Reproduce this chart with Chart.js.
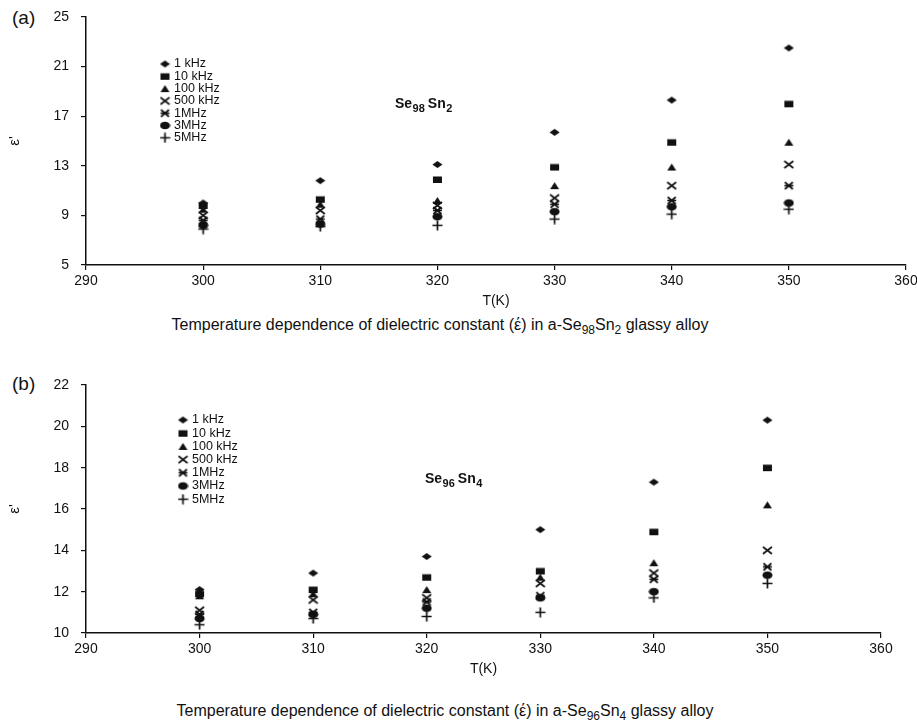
<!DOCTYPE html>
<html>
<head>
<meta charset="utf-8">
<script src="https://cdn.jsdelivr.net/npm/chart.js@4"></script>
<style>
  body { margin: 0; background: #fff; font-family: "Liberation Sans", Arial, sans-serif; color: #111; }
  #wrap { position: relative; width: 917px; height: 725px; }
  canvas { position: absolute; left: 0; }
  .tag { position: absolute; left: 12px; font-size: 19px; }
  .cap { position: absolute; width: 880px; text-align: center; font-size: 16px; }
  .cap sub { font-size: 12px; }
</style>
</head>
<body>
<div id="wrap">
  <div class="tag" style="top:7px">(a)</div>
  <canvas id="chA" width="917" height="312" style="top:0"></canvas>
  <div class="cap" style="left:0;top:316px">Temperature dependence of dielectric constant (έ) in a-Se<sub>98</sub>Sn<sub>2</sub> glassy alloy</div>

  <div class="tag" style="top:373px">(b)</div>
  <canvas id="chB" width="917" height="312" style="top:368px"></canvas>
  <div class="cap" style="left:5px;top:702px">Temperature dependence of dielectric constant (έ) in a-Se<sub>96</sub>Sn<sub>4</sub> glassy alloy</div>
</div>
<script>
const temps = [300, 310, 320, 330, 340, 350];
const freqs = ['1 kHz', '10 kHz', '100 kHz', '500 kHz', '1MHz', '3MHz', '5MHz'];

// (a) Se98 Sn2
const a1k   = [10.0, 11.8, 13.1, 15.7, 18.3, 22.5];
const a10k  = [9.8, 10.3, 11.9, 12.9, 14.9, 18.0];
const a100k = [9.5, 9.9, 10.2, 11.4, 12.9, 14.9];
const a500k = [9.0, 9.4, 9.8, 10.4, 11.4, 13.1];
const a1M   = [8.6, 8.7, 9.4, 9.9, 10.2, 11.4];
const a3M   = [8.2, 8.3, 8.9, 9.3, 9.7, 10.0];
const a5M   = [7.9, 8.1, 8.2, 8.7, 9.1, 9.5];

// (b) Se96 Sn4
const b1k   = [12.1, 12.9, 13.7, 15.0, 17.3, 20.3];
const b10k  = [11.9, 12.1, 12.7, 13.0, 14.9, 18.0];
const b100k = [11.8, 11.9, 12.1, 12.7, 13.4, 16.2];
const b500k = [11.1, 11.6, 11.7, 12.4, 12.9, 14.0];
const b1M   = [10.9, 11.0, 11.5, 11.8, 12.6, 13.2];
const b3M   = [10.7, 10.9, 11.2, 11.7, 12.0, 12.8];
const b5M   = [10.4, 10.7, 10.8, 11.0, 11.7, 12.4];

const ink = '#111';
const fontFam = '"Liberation Sans", Arial, sans-serif';

// small marker images, one per frequency
function marker(kind) {
  const c = document.createElement('canvas');
  c.width = 11; c.height = 11;
  const g = c.getContext('2d');
  g.fillStyle = ink; g.strokeStyle = ink; g.lineWidth = 1.7;
  g.beginPath();
  if (kind === 'diamond') {
    g.moveTo(0.5, 5.5); g.lineTo(5.5, 2); g.lineTo(10.5, 5.5); g.lineTo(5.5, 9); g.closePath(); g.fill();
  } else if (kind === 'square') {
    g.fillRect(1, 2.5, 9, 6.5);
  } else if (kind === 'triangle') {
    g.moveTo(1, 9); g.lineTo(5.5, 2); g.lineTo(10, 9); g.closePath(); g.fill();
  } else if (kind === 'x') {
    g.moveTo(1, 2); g.lineTo(10, 9); g.moveTo(1, 9); g.lineTo(10, 2); g.stroke();
  } else if (kind === 'aster') {
    g.moveTo(1.5, 2); g.lineTo(9.5, 9); g.moveTo(1.5, 9); g.lineTo(9.5, 2);
    g.moveTo(1, 5.5); g.lineTo(10, 5.5); g.stroke();
  } else if (kind === 'circle') {
    g.ellipse(5.5, 5.5, 5, 3.8, 0, 0, Math.PI * 2); g.fill();
  } else {
    g.moveTo(0.5, 5.5); g.lineTo(10.5, 5.5); g.moveTo(5.5, 0.5); g.lineTo(5.5, 10.5); g.stroke();
  }
  return c;
}
const shapes = ['diamond', 'square', 'triangle', 'x', 'aster', 'circle', 'plus'].map(marker);

const innerLegend = {
  id: 'innerLegend',
  afterDraw(chart, args, opts) {
    const g = chart.ctx;
    const area = chart.chartArea;
    g.save();
    g.font = '12.5px ' + fontFam;
    g.fillStyle = ink;
    g.textBaseline = 'middle';
    chart.data.datasets.forEach((ds, i) => {
      const y = area.top + opts.top + i * opts.gap;
      const img = ds.pointStyle;
      g.drawImage(img, area.left + opts.left - img.width / 2, y - img.height / 2);
      g.fillText(ds.label, area.left + opts.left + 9, y);
    });
    // compound name with subscripts
    let x = area.left + opts.noteX;
    const y = area.top + opts.noteY;
    g.textBaseline = 'alphabetic';
    opts.note.forEach(([txt, sub]) => {
      g.font = (sub ? 'bold 11px ' : 'bold 14px ') + fontFam;
      g.fillText(txt, x, sub ? y + 4 : y);
      x += g.measureText(txt).width + (sub ? 3 : 0.5);
    });
    g.restore();
  }
};

function build(id, series, yMin, yMax, yStep, rightPad, legend) {
  const datasets = series.map((vals, i) => ({
    label: freqs[i],
    data: temps.map((t, j) => ({ x: t, y: vals[j] })),
    pointStyle: shapes[i],
    pointRadius: 5,
    showLine: false
  }));
  return new Chart(document.getElementById(id), {
    type: 'scatter',
    data: { datasets: datasets },
    options: {
      responsive: false,
      animation: false,
      layout: { padding: { top: 17, right: rightPad, left: 0, bottom: 0 } },
      plugins: { legend: { display: false }, tooltip: { enabled: false }, innerLegend: legend },
      scales: {
        x: {
          min: 290, max: 360,
          ticks: { stepSize: 10, color: ink, font: { size: 14, family: fontFam }, padding: 3 },
          grid: { drawOnChartArea: false, color: ink, tickLength: 5, lineWidth: 1.2 },
          border: { color: ink, width: 1.5 },
          title: { display: true, text: 'T(K)', color: ink, font: { size: 14, family: fontFam }, padding: { top: 0, bottom: 2 } },
          afterFit: s => { s.height = 47; s.paddingLeft = 0; s.paddingRight = 0; }
        },
        y: {
          min: yMin, max: yMax,
          ticks: { stepSize: yStep, color: ink, font: { size: 14, family: fontFam }, padding: 12 },
          grid: { drawOnChartArea: false, color: ink, tickLength: 5, lineWidth: 1.2 },
          border: { color: ink, width: 1.5 },
          title: { display: true, text: "ε'", color: ink, font: { size: 15, family: fontFam }, padding: { top: 6, bottom: 0 } },
          afterFit: s => { s.width = 86; s.paddingTop = 0; s.paddingBottom = 0; }
        }
      }
    },
    plugins: [innerLegend]
  });
}

build('chA', [a1k, a10k, a100k, a500k, a1M, a3M, a5M], 5, 25, 4, 11,
  { left: 79, top: 47, gap: 12.3, noteX: 309, noteY: 91, note: [['Se', 0], ['98', 1], ['Sn', 0], ['2', 1]] });
build('chB', [b1k, b10k, b100k, b500k, b1M, b3M, b5M], 10, 22, 2, 36,
  { left: 97, top: 35, gap: 13.2, noteX: 339, noteY: 98, note: [['Se', 0], ['96', 1], ['Sn', 0], ['4', 1]] });
</script>
</body>
</html>
